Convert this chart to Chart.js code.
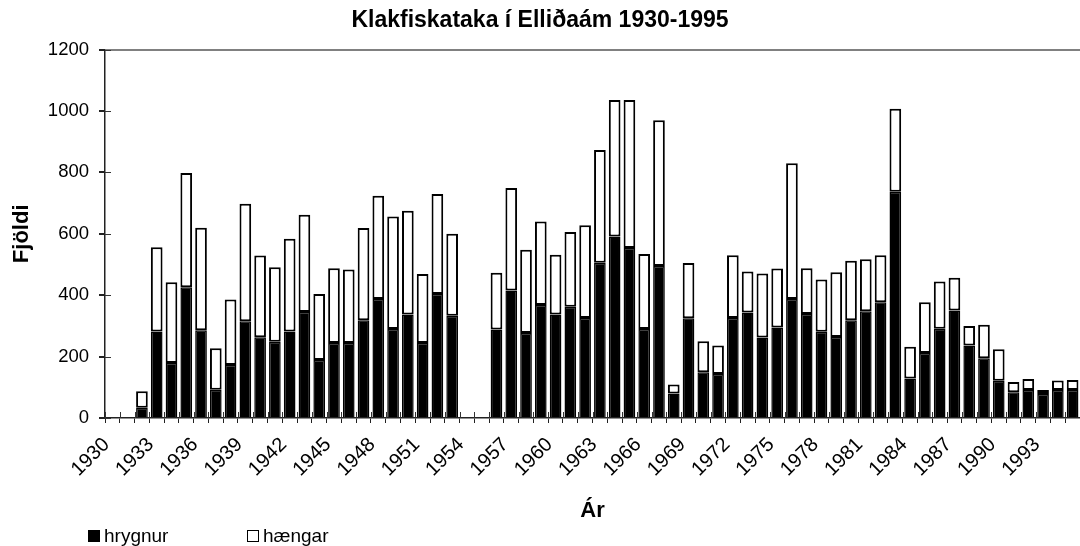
<!DOCTYPE html>
<html>
<head>
<meta charset="utf-8">
<script src="https://cdn.jsdelivr.net/npm/chart.js@4"></script>
<style>
  body { margin: 0; background: #fff; }
  #wrap { width: 1080px; height: 546px; }
</style>
</head>
<body>
<div id="wrap"><canvas id="chart" width="1080" height="546"></canvas></div>
<script>
const years = [];
for (let y = 1930; y <= 1995; y++) years.push(String(y));

// hrygnur (black) and hængar (white); null = no data
const hrygnur = [
  null, null, 33, 282, 179, 426, 286, 92, 173, 315,
  263, 248, 282, 345, 189, 244, 244, 318, 388, 290,
  337, 244, 404, 333, null, null, 288, 415, 277, 368,
  337, 362, 326, 506, 591, 554, 290, 495, 80, 325,
  149, 143, 326, 344, 262, 295, 388, 339, 281, 264,
  318, 348, 377, 737, 129, 212, 291, 350, 236, 195,
  121, 84, 91, 78, 91, 91
];
const haengar = [
  null, null, 54, 274, 263, 372, 334, 135, 213, 383,
  266, 243, 302, 317, 215, 244, 240, 301, 336, 366,
  338, 225, 326, 267, null, null, 185, 334, 271, 272,
  195, 244, 302, 367, 445, 482, 244, 475, 29, 180,
  101, 93, 204, 133, 209, 192, 442, 149, 170, 211,
  194, 169, 153, 270, 103, 165, 154, 107, 64, 109,
  103, 33, 36, 13, 31, 33
];

const yTicks = [0, 200, 400, 600, 800, 1000, 1200];
const FONT = "'Liberation Sans', Arial, sans-serif";

// small tick marks on the inner side of both axes
const innerTicks = {
  id: "innerTicks",
  afterDatasetsDraw(chart) {
    const { ctx, chartArea, scales } = chart;
    const x = scales.x, y = scales.y;
    ctx.save();
    ctx.strokeStyle = "#333";
    ctx.lineWidth = 1;
    ctx.beginPath();
    yTicks.forEach((v) => {
      const py = Math.round(y.getPixelForValue(v)) + 0.5;
      ctx.moveTo(chartArea.left, py);
      ctx.lineTo(chartArea.left + 6, py);
    });
    const step = chartArea.width / years.length;
    for (let i = 0; i <= years.length; i++) {
      const px = Math.round(x.getPixelForValue(0) - step / 2 + i * step) + 0.5;
      ctx.moveTo(px, chartArea.bottom);
      ctx.lineTo(px, chartArea.bottom - 6);
    }
    ctx.stroke();
    ctx.restore();
  },
};

// legend in the lower left corner, like the original
const bottomLegend = {
  id: "bottomLegend",
  afterDraw(chart) {
    const { ctx } = chart;
    const spots = [88, 247];
    ctx.save();
    ctx.font = "19px " + FONT;
    ctx.textBaseline = "middle";
    chart.data.datasets.forEach((ds, i) => {
      const bx = spots[i], by = 530;
      ctx.fillStyle = ds.backgroundColor;
      ctx.fillRect(bx, by, 12, 12);
      ctx.strokeStyle = "#000";
      ctx.lineWidth = 1;
      ctx.strokeRect(bx + 0.5, by + 0.5, 11, 11);
      ctx.fillStyle = "#000";
      ctx.fillText(ds.label, bx + 16, by + 7);
    });
    ctx.restore();
  },
};

new Chart(document.getElementById("chart"), {
  type: "bar",
  data: {
    labels: years,
    datasets: [
      {
        label: "hrygnur",
        data: hrygnur,
        backgroundColor: "#000000",
        borderColor: "#000000",
        borderWidth: 1.5,
        barPercentage: 0.79,
        categoryPercentage: 1,
      },
      {
        label: "hængar",
        data: haengar,
        backgroundColor: "#ffffff",
        borderColor: "#000000",
        borderWidth: 2,
        borderSkipped: false,
        barPercentage: 0.79,
        categoryPercentage: 1,
      },
    ],
  },
  options: {
    responsive: false,
    animation: false,
    layout: { padding: { left: 0, right: 0, top: 0, bottom: 22 } },
    plugins: {
      legend: { display: false },
      tooltip: { enabled: false },
      title: {
        display: true,
        text: "Klakfiskataka í Elliðaám 1930-1995",
        color: "#000",
        font: { family: FONT, size: 23, weight: "bold" },
        padding: { top: 7, bottom: 15 },
      },
    },
    scales: {
      x: {
        stacked: true,
        grid: {
          display: true,
          drawOnChartArea: false,
          tickLength: 5,
          tickColor: "#222",
          offset: true,
        },
        border: { color: "#222", width: 1.5 },
        ticks: {
          autoSkip: false,
          minRotation: 45,
          maxRotation: 45,
          padding: 10,
          labelOffset: -6,
          color: "#000",
          font: { family: FONT, size: 20 },
          callback: (v, i) => ((Number(years[i]) - 1930) % 3 === 0 ? years[i] : ""),
        },
        title: {
          display: true,
          text: "Ár",
          color: "#000",
          font: { family: FONT, size: 22, weight: "bold" },
          padding: { top: 0, bottom: 0 },
        },
        afterFit(scale) {
          scale.height = 106;
          scale.paddingLeft = 0;
          scale.paddingRight = 0;
        },
      },
      y: {
        stacked: true,
        min: 0,
        max: 1200,
        grid: {
          color: (c) => (c.tick && c.tick.value === 1200 ? "#808080" : "rgba(0,0,0,0)"),
          lineWidth: 2,
          tickLength: 6,
          tickColor: "#222",
        },
        border: { color: "#222", width: 1.5 },
        ticks: {
          stepSize: 200,
          padding: 10,
          color: "#000",
          font: { family: FONT, size: 18.5 },
          callback: (v) => String(v),
        },
        title: {
          display: true,
          text: "Fjöldi",
          color: "#000",
          font: { family: FONT, size: 22, weight: "bold" },
          padding: { top: 9, bottom: 0 },
        },
        afterFit(scale) {
          scale.width = 105;
        },
      },
    },
  },
  plugins: [innerTicks, bottomLegend],
});
</script>
</body>
</html>
